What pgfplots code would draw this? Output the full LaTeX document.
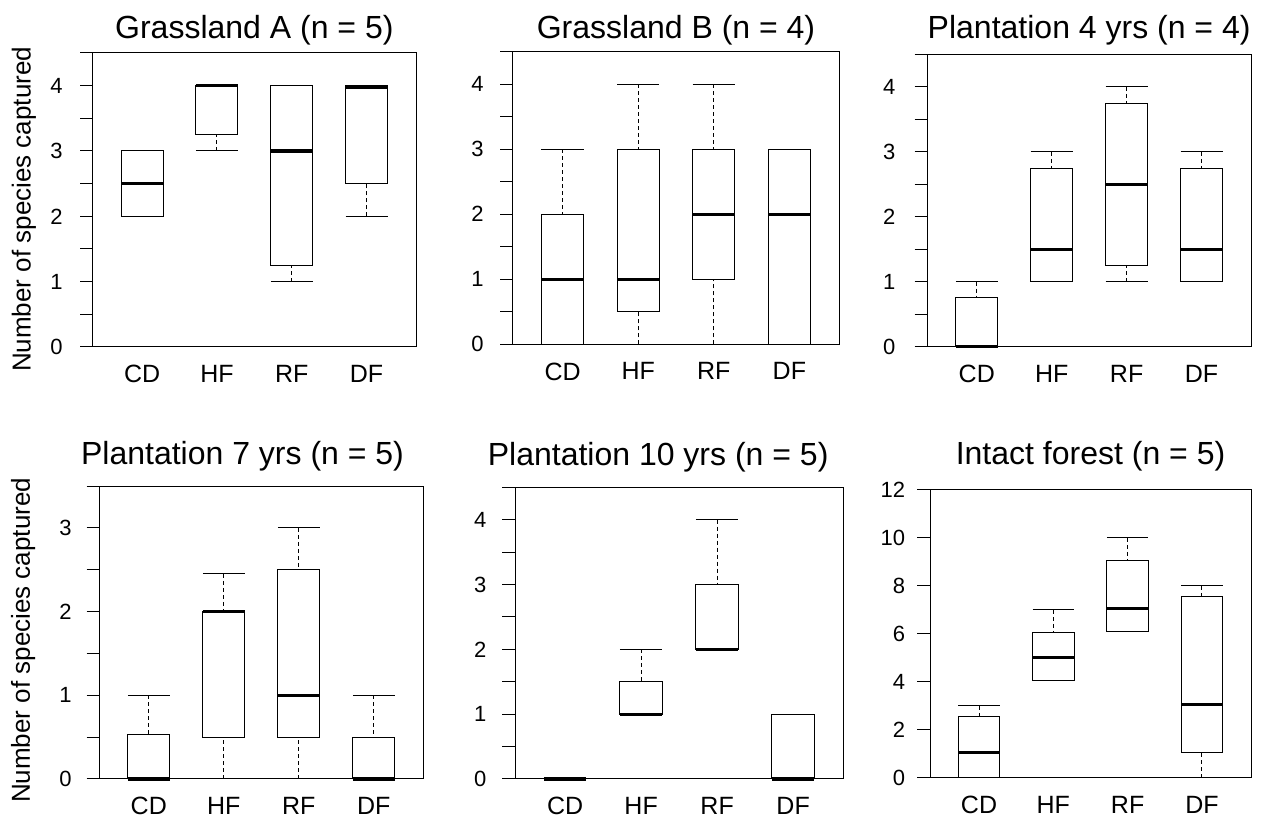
\documentclass[border=0pt]{standalone}
\usepackage{fontspec}
\setmainfont{Liberation Sans}
\usepackage{pgfplots}
\pgfplotsset{compat=1.18}
\usepgfplotslibrary{statistics}
\pgfplotsset{
  boxplot/draw/lower whisker/.code={%
    \draw[/pgfplots/boxplot/every whisker/.try, dash pattern=on 2pt off 1.5pt]
      (boxplot cs:\pgfplotsboxplotvalue{lower whisker}) -- (boxplot cs:\pgfplotsboxplotvalue{lower quartile});
    \draw[/pgfplots/boxplot/every whisker/.try]
      (boxplot whisker cs:\pgfplotsboxplotvalue{lower whisker},0) -- (boxplot whisker cs:\pgfplotsboxplotvalue{lower whisker},1);
  },
  boxplot/draw/upper whisker/.code={%
    \draw[/pgfplots/boxplot/every whisker/.try, dash pattern=on 2pt off 1.5pt]
      (boxplot cs:\pgfplotsboxplotvalue{upper whisker}) -- (boxplot cs:\pgfplotsboxplotvalue{upper quartile});
    \draw[/pgfplots/boxplot/every whisker/.try]
      (boxplot whisker cs:\pgfplotsboxplotvalue{upper whisker},0) -- (boxplot whisker cs:\pgfplotsboxplotvalue{upper whisker},1);
  },
  panel/.style={
    scale only axis, anchor=south west, clip=false,
    xmin=0.34, xmax=4.66, ymin=0,
    xtick={1,2,3,4}, xticklabels={CD,HF,RF,DF},
    xtick align=inside, major x tick style={draw=none},
    ytick align=outside, ytick pos=left,
    major tick length=6.3pt, minor tick length=6.3pt,
    every tick/.style={black, line width=0.5pt},
    axis line style={line width=0.5pt},
    /pgf/number format/assume math mode=true,
    yticklabel style={font=\fontsize{11}{13}\selectfont, anchor=east, inner sep=0pt},
    xticklabel style={font=\fontsize{12.5}{14}\selectfont, anchor=north, inner sep=0pt, yshift=-9pt},
    title style={font=\fontsize{16}{19}\selectfont, anchor=base, inner sep=0pt},
    ylabel style={font=\fontsize{13}{15}\selectfont, anchor=center},
    boxplot/draw direction=y,
    boxplot/box extend=0.56, boxplot/whisker extend=0.56,
    boxplot/every median/.style={line width=1.6pt},
    boxplot/every box/.style={line width=0.5pt},
    boxplot/every whisker/.style={line width=0.5pt},
  },
  half/.style={ymax=4.5, ytick={0,1,2,3,4}, minor ytick={0.5,1.5,2.5,3.5,4.5}},
}
\newcommand{\bx}[6]{\addplot[black, line width=0.5pt, boxplot prepared={draw position=#1, lower whisker=#2, lower quartile=#3, median=#4, upper quartile=#5, upper whisker=#6}] coordinates {};}
\begin{document}
\begin{tikzpicture}
\useasboundingbox (0,0) rectangle (637pt,409.5pt);
% Grassland A
\begin{axis}[panel, half, at={(46.35pt,236pt)}, width=161.65pt, height=147pt,
  yticklabel style={xshift=-8.5pt},
  title={Grassland A (n = 5)}, title style={at={(0.5,1)}, yshift=1pt},
  ylabel={Number of species captured}, ylabel style={at={(axis description cs:-0.2125,0.468)}}]
\bx{1}{2}{2}{2.5}{3}{3}
\bx{2}{3}{3.25}{4}{4}{4}
\bx{3}{1}{1.25}{3}{4}{4}
\bx{4}{2}{2.5}{3.98}{4}{4}
\end{axis}
% Grassland B
\begin{axis}[panel, half, at={(256.35pt,237.35pt)}, width=163.3pt, height=146.3pt,
  yticklabel style={xshift=-8pt},
  title={Grassland B (n = 4)}, title style={at={(0.5,1)}, yshift=0.5pt}]
\bx{1}{0}{0}{1}{2}{3}
\bx{2}{0}{0.5}{1}{3}{4}
\bx{3}{0}{1}{2}{3}{4}
\bx{4}{0}{0}{2}{3}{3}
\end{axis}
% Plantation 4 yrs
\begin{axis}[panel, half, at={(463.65pt,236.15pt)}, width=161.85pt, height=146.2pt,
  yticklabel style={xshift=-9.5pt},
  title={Plantation 4 yrs (n = 4)}, title style={at={(0.5,1)}, yshift=2pt}]
\bx{1}{0}{0}{0}{0.75}{1}
\bx{2}{1}{1}{1.5}{2.75}{3}
\bx{3}{1}{1.25}{2.5}{3.75}{4}
\bx{4}{1}{1}{1.5}{2.75}{3}
\end{axis}
% Plantation 7 yrs
\begin{axis}[panel, at={(49.65pt,20pt)}, width=162pt, height=146.5pt,
  ymax=3.5, ytick={0,1,2,3}, minor ytick={0.5,1.5,2.5,3.5},
  yticklabel style={xshift=-7.3pt},
  title={Plantation 7 yrs (n = 5)}, title style={at={(0.442,1)}, yshift=4.5pt},
  ylabel={Number of species captured}, ylabel style={at={(axis description cs:-0.235,0.473)}}]
\bx{1}{0}{0}{0}{0.53}{1}
\bx{2}{0}{0.5}{2}{2}{2.45}
\bx{3}{0}{0.5}{1}{2.5}{3}
\bx{4}{0}{0}{0}{0.5}{1}
\end{axis}
% Plantation 10 yrs
\begin{axis}[panel, half, at={(257.5pt,20pt)}, width=164.15pt, height=145.85pt,
  yticklabel style={xshift=-7.8pt},
  title={Plantation 10 yrs (n = 5)}, title style={at={(0.436,1)}, yshift=5pt}]
\bx{1}{0}{0}{0}{0}{0}
\bx{2}{1}{1}{1}{1.5}{2}
\bx{3}{2}{2}{2}{3}{4}
\bx{4}{0}{0}{0}{1}{1}
\end{axis}
% Intact forest
\begin{axis}[panel, at={(465pt,20.65pt)}, width=160.5pt, height=143.85pt,
  ymax=12, ytick={0,2,4,6,8,10,12},
  yticklabel style={xshift=-6pt},
  title={Intact forest (n = 5)}, title style={at={(0.5,1)}, yshift=6.5pt}]
\bx{1}{0}{0}{1.05}{2.55}{3}
\bx{2}{4.05}{4.05}{5}{6.05}{7}
\bx{3}{6.1}{6.1}{7.05}{9.05}{10}
\bx{4}{0}{1.05}{3.05}{7.55}{8}
\end{axis}
\end{tikzpicture}
\end{document}
